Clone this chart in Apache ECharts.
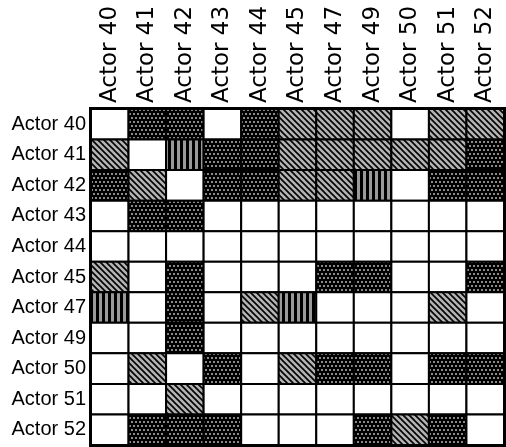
<!DOCTYPE html>
<html>
<head>
<meta charset="utf-8">
<script src="https://cdn.jsdelivr.net/npm/echarts@6/dist/echarts.min.js"></script>
<style>
  html, body { margin: 0; padding: 0; background: #fff; }
  #chart { width: 506px; height: 447px; }
</style>
</head>
<body>
<div id="chart"></div>
<script>
// actors on both axes (rows top->bottom, columns left->right)
const actors = ['Actor 40', 'Actor 41', 'Actor 42', 'Actor 43', 'Actor 44', 'Actor 45',
  'Actor 47', 'Actor 49', 'Actor 50', 'Actor 51', 'Actor 52'];

// cell codes: 0 = empty, 1 = hatched, 2 = striped, 3 = dotted
const row40 = [0, 3, 3, 0, 3, 1, 1, 1, 0, 1, 1];
const row41 = [1, 0, 2, 3, 3, 1, 1, 1, 1, 1, 3];
const row42 = [3, 1, 0, 3, 3, 1, 1, 2, 0, 3, 3];
const row43 = [0, 3, 3, 0, 0, 0, 0, 0, 0, 0, 0];
const row44 = [0, 0, 0, 0, 0, 0, 0, 0, 0, 0, 0];
const row45 = [1, 0, 3, 0, 0, 0, 3, 3, 0, 0, 3];
const row47 = [2, 0, 3, 0, 1, 2, 0, 0, 0, 1, 0];
const row49 = [0, 0, 3, 0, 0, 0, 0, 0, 0, 0, 0];
const row50 = [0, 1, 0, 3, 0, 1, 3, 3, 0, 3, 3];
const row51 = [0, 0, 1, 0, 0, 0, 0, 0, 0, 0, 0];
const row52 = [0, 3, 3, 3, 0, 0, 0, 3, 1, 3, 0];

const rows = [row40, row41, row42, row43, row44, row45, row47, row49, row50, row51, row52];

// small canvas tiles used as fill patterns
function makeTile(w, h, draw) {
  const c = document.createElement('canvas');
  c.width = w;
  c.height = h;
  draw(c.getContext('2d'));
  return { image: c, repeat: 'repeat' };
}

const hatchFill = makeTile(6, 6, ctx => {
  ctx.fillStyle = '#b3b3b3';
  ctx.fillRect(0, 0, 6, 6);
  ctx.strokeStyle = '#000';
  ctx.lineWidth = 1.6;
  ctx.beginPath();
  ctx.moveTo(-1, -1); ctx.lineTo(7, 7);
  ctx.moveTo(-1, 5); ctx.lineTo(1, 7);
  ctx.moveTo(5, -1); ctx.lineTo(7, 1);
  ctx.stroke();
});

const stripeFill = makeTile(6, 6, ctx => {
  ctx.fillStyle = '#000';
  ctx.fillRect(0, 0, 6, 6);
  ctx.fillStyle = '#9a9a9a';
  ctx.fillRect(3, 0, 3, 6);
});

const dotFill = makeTile(8, 8, ctx => {
  ctx.fillStyle = '#000';
  ctx.fillRect(0, 0, 8, 8);
  ctx.fillStyle = '#8a8a8a';
  ctx.fillRect(1, 1, 2, 2);
  ctx.fillRect(5, 1, 2, 2);
  ctx.fillRect(3, 5, 2, 2);
  ctx.fillRect(7, 5, 1, 2);
  ctx.fillRect(0, 5, 1, 2);
});

const fills = ['#fff', hatchFill, stripeFill, dotFill];

const cells = [];
rows.forEach((r, i) => {
  r.forEach((code, j) => {
    cells.push([j, i, code]);
  });
});

const chart = echarts.init(document.getElementById('chart'));

chart.setOption({
  animation: false,
  grid: {
    left: 91,
    top: 109,
    right: 2,
    bottom: 2,
    show: true,
    borderColor: '#000',
    borderWidth: 4
  },
  xAxis: {
    type: 'category',
    position: 'top',
    data: actors,
    axisLine: { show: false },
    axisTick: { show: false },
    splitLine: { show: false },
    axisLabel: {
      rotate: -90,
      margin: 6,
      padding: [10, 0, 0, 0], // nudges the column labels a bit to the right
      color: '#000',
      fontFamily: 'DejaVu Sans',
      fontSize: 23
    }
  },
  yAxis: {
    type: 'category',
    inverse: true,
    data: actors,
    axisLine: { show: false },
    axisTick: { show: false },
    splitLine: { show: false },
    axisLabel: {
      margin: 5,
      color: '#000',
      fontFamily: 'Liberation Sans',
      fontSize: 20
    }
  },
  series: [{
    type: 'custom',
    data: cells,
    renderItem: function (params, api) {
      const p = api.coord([api.value(0), api.value(1)]);
      const s = api.size([1, 1]);
      return {
        type: 'rect',
        shape: { x: p[0] - s[0] / 2, y: p[1] - s[1] / 2, width: s[0], height: s[1] },
        style: { fill: fills[api.value(2)], stroke: '#000', lineWidth: 2 }
      };
    }
  }]
});
</script>
</body>
</html>
